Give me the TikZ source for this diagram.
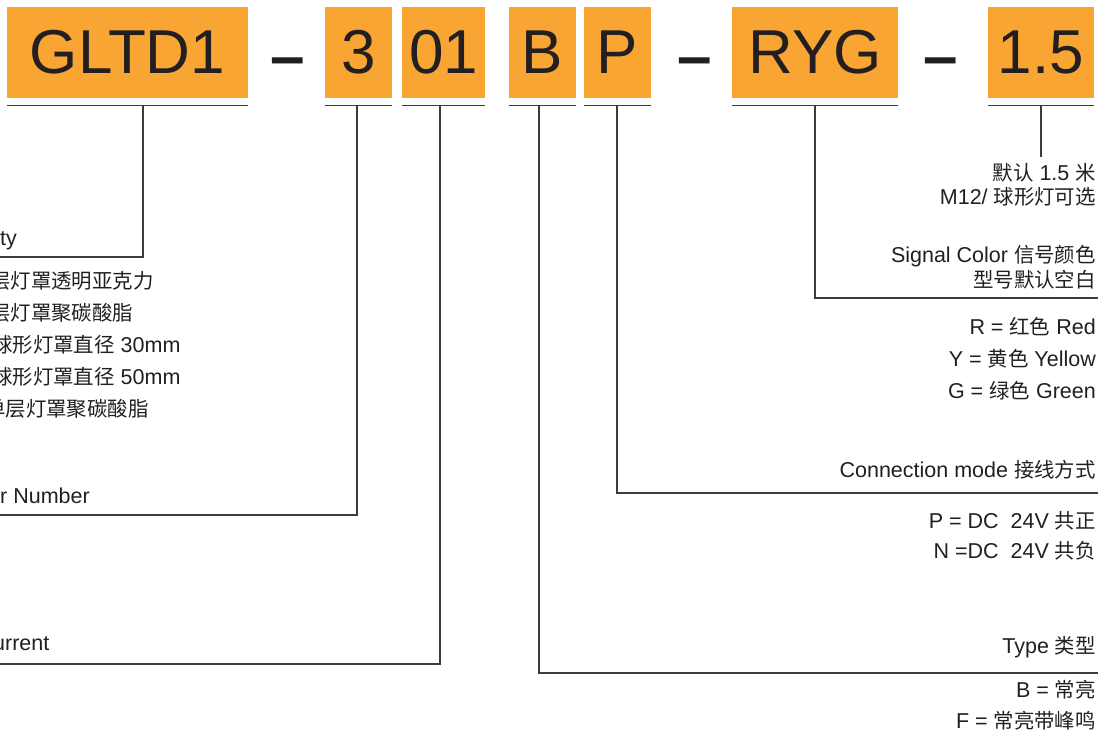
\documentclass[tikz,border=0pt]{standalone}
\usepackage{fontspec}
\setmainfont{Liberation Sans}
\newfontfamily\cjkfont[Scale=0.95]{Noto Sans CJK SC}
\newcommand\zh[1]{{\cjkfont #1}}
\definecolor{boxorange}{HTML}{F8A533}
\definecolor{ink}{HTML}{231F20}
\definecolor{rulegray}{HTML}{3C3C3C}
\begin{document}
\begin{tikzpicture}[x=1pt,y=-1pt,
  codebox/.style={fill=boxorange, inner sep=0pt, minimum height=91pt, text=ink,
    font=\fontsize{62}{62}\selectfont},
  dashtxt/.style={inner sep=0pt, text=ink, anchor=base, font=\fontsize{62}{62}\selectfont\bfseries},
  lbl/.style={inner sep=0pt, text=ink, font=\fontsize{21.5}{25}\selectfont},
  rlbl/.style={lbl, anchor=base east},
  llbl/.style={lbl, anchor=base west},
  uline/.style={draw=rulegray, line width=1.4pt},
  conn/.style={draw=rulegray, line width=1.3pt}]
\useasboundingbox (0,0) rectangle (1098,742);
\clip (0,0) rectangle (1098,742);

% code boxes
\node[codebox, minimum width=241pt] (b1) at (127.5,52.5) {GLTD1};
\node[codebox, minimum width=67pt]  (b2) at (358.5,52.5) {3};
\node[codebox, minimum width=83pt]  (b3) at (443.5,52.5) {01};
\node[codebox, minimum width=67pt]  (b4) at (542.5,52.5) {B};
\node[codebox, minimum width=67pt]  (b5) at (617.5,52.5) {P};
\node[codebox, minimum width=166pt] (b6) at (815,52.5) {RYG};
\node[codebox, minimum width=106pt] (b7) at (1041,52.5) {1.5};

% dashes
\node[dashtxt] (d1) at (287.5,77.5) {–};
\node[dashtxt] (d2) at (694.5,77.5) {–};
\node[dashtxt] (d3) at (940.5,77.5) {–};

% underlines
\foreach \b in {b1,b2,b3,b4,b5,b6,b7}
  \draw[uline] ([yshift=-7pt]\b.south west) -- ([yshift=-7pt]\b.south east);

% connector coordinates
\coordinate (t1) at (143,105);  \coordinate (e1) at (0,257);
\coordinate (t2) at (357,105);  \coordinate (e2) at (0,515);
\coordinate (t3) at (440,105);  \coordinate (e3) at (0,664);
\coordinate (t4) at (539,105);  \coordinate (e4) at (1098,673);
\coordinate (t5) at (617,105);  \coordinate (e5) at (1098,493);
\coordinate (t6) at (815,105);  \coordinate (e6) at (1098,298);
\coordinate (t7) at (1041,105); \coordinate (e7) at (1041,157);

\draw[conn] (t1) |- (e1);
\draw[conn] (t2) |- (e2);
\draw[conn] (t3) |- (e3);
\draw[conn] (t4) |- (e4);
\draw[conn] (t5) |- (e5);
\draw[conn] (t6) |- (e6);
\draw[conn] (t7) -- (e7);

% left labels (cut off at the left edge)
\node[llbl] (l1) at (0,245) {ty};
\node[llbl] (l2) at (-10,288) {\zh{层灯罩透明亚克力}};
\node[llbl] (l3) at (-10,320) {\zh{层灯罩聚碳酸脂}};
\node[llbl] (l4) at (-8,352) {\zh{球形灯罩直径} 30mm};
\node[llbl] (l5) at (-8,384) {\zh{球形灯罩直径} 50mm};
\node[llbl] (l6) at (-15,416) {\zh{单层灯罩聚碳酸脂}};
\node[llbl] (l7) at (0,503) {r Number};
\node[llbl] (l8) at (-7,650) {urrent};

% right labels
\node[rlbl] (r1) at (1096,180) {\zh{默认} 1.5 \zh{米}};
\node[rlbl] (r2) at (1096,204) {M12/ \zh{球形灯可选}};
\node[rlbl] (r3) at (1096,262) {Signal Color \zh{信号颜色}};
\node[rlbl] (r4) at (1096,287) {\zh{型号默认空白}};
\node[rlbl] (r5) at (1096,334) {R = \zh{红色} Red};
\node[rlbl] (r6) at (1096,366) {Y = \zh{黄色} Yellow};
\node[rlbl] (r7) at (1096,398) {G = \zh{绿色} Green};
\node[rlbl] (r8) at (1096,477) {Connection mode \zh{接线方式}};
\node[rlbl] (r9) at (1096,528) {P = DC\ \ 24V \zh{共正}};
\node[rlbl] (r10) at (1096,558) {N =DC\ \ 24V \zh{共负}};
\node[rlbl] (r11) at (1096,653) {Type \zh{类型}};
\node[rlbl] (r12) at (1096,697) {B = \zh{常亮}};
\node[rlbl] (r13) at (1096,728) {F = \zh{常亮带峰鸣}};
\end{tikzpicture}
\end{document}
